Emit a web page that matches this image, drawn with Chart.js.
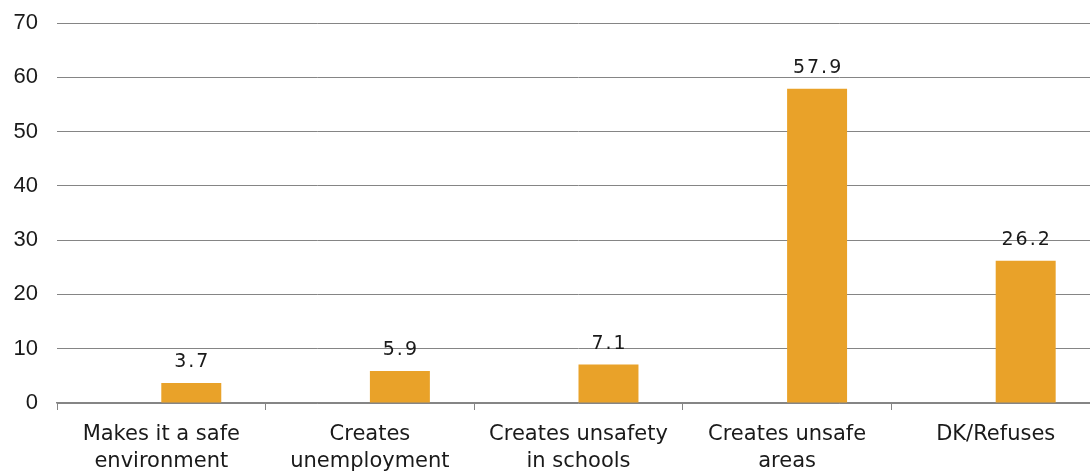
<!DOCTYPE html>
<html>
<head>
<meta charset="utf-8">
<script src="https://cdn.jsdelivr.net/npm/chart.js@4"></script>
<style>
  html, body { margin: 0; padding: 0; background: #fff; overflow: hidden; }
  #wrap { width: 1100px; height: 474px; }
</style>
</head>
<body>
<div id="wrap"><canvas id="mainCanvas"></canvas></div>
<script>
const categories = [
  ["Makes it a safe", "environment"],
  ["Creates", "unemployment"],
  ["Creates unsafety", "in schools"],
  ["Creates unsafe", "areas"],
  ["DK/Refuses"],
];
const values = [3.7, 5.9, 7.1, 57.9, 26.2];
const spacer = [null, null, null, null, null];
const yTicks = [0, 10, 20, 30, 40, 50, 60, 70];

const FONT = "'DejaVu Sans', Verdana, sans-serif";
const NUM_FONT = "'Liberation Sans', Arial, sans-serif";
const BAR = "#E9A229";
const GRID = "#858585";

/**
 * Writes each bar's value above it
 */
const valueLabels = {
  id: "valueLabels",
  afterDatasetsDraw(chart) {
    const ctx = chart.ctx;
    const meta = chart.getDatasetMeta(1);
    ctx.save();
    ctx.font = `19px ${FONT}`;
    ctx.fillStyle = "#1a1a1a";
    ctx.textAlign = "center";
    ctx.textBaseline = "bottom";
    ctx.letterSpacing = "2px";
    meta.data.forEach((bar, i) => {
      ctx.fillText(values[i].toFixed(1), bar.x + 1, bar.y - 11);
    });
    ctx.restore();
  },
};

const ctx = document.getElementById("mainCanvas").getContext("2d");

const chart = new Chart(ctx, {
  type: "bar",
  data: {
    labels: categories,
    datasets: [
      { label: "spacer", data: spacer, backgroundColor: BAR },
      { label: "Share", data: values, backgroundColor: BAR },
    ],
  },
  options: {
    responsive: true,
    maintainAspectRatio: false,
    animation: false,
    layout: { padding: { top: 23, right: 0, left: 0, bottom: 0 } },
    datasets: {
      bar: { categoryPercentage: 0.575, barPercentage: 1 },
    },
    plugins: {
      legend: { display: false },
      tooltip: { enabled: false },
    },
    scales: {
      x: {
        offset: true,
        grid: {
          drawOnChartArea: false,
          drawTicks: true,
          tickLength: 7,
          color: GRID,
          lineWidth: 1,
        },
        border: { display: true, color: GRID, width: 1.5 },
        ticks: {
          color: "#1a1a1a",
          font: { family: FONT, size: 21, lineHeight: 1.24 },
          padding: 12,
          maxRotation: 0,
          autoSkip: false,
        },
        afterFit(scale) {
          scale.height = 71;
          scale.paddingLeft = 0;
          scale.paddingRight = 0;
        },
      },
      y: {
        min: 0,
        max: 70,
        afterBuildTicks(scale) {
          scale.ticks = yTicks.map(v => ({ value: v }));
        },
        grid: {
          color: GRID,
          lineWidth: 1,
          drawTicks: false,
        },
        border: { display: false },
        ticks: {
          color: "#1a1a1a",
          font: { family: NUM_FONT, size: 22 },
          padding: 19,
        },
        afterFit(scale) {
          scale.width = 57;
          scale.paddingTop = 0;
          scale.paddingBottom = 0;
        },
      },
    },
  },
  plugins: [valueLabels],
});
</script>
</body>
</html>
